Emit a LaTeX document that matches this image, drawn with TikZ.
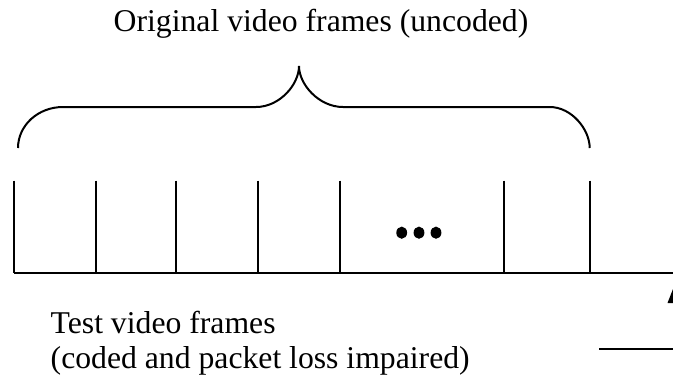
\documentclass[tikz,border=0pt]{standalone}
\usepackage{fontspec}
\setmainfont{Liberation Serif}
\begin{document}
\begin{tikzpicture}[x=1pt,y=-1pt,
  stroke/.style={line width=2pt,black},
  label/.style={inner sep=0pt,font=\fontsize{31.7}{35}\selectfont},
  dot/.style={fill=black,draw=none}]
\useasboundingbox (0,0) rectangle (673,381);
% labels
\node[label,anchor=base] (orig) at (321,31) {Original video frames (uncoded)};
\node[label,anchor=base west] (test1) at (50.5,333) {Test video frames};
\node[label,anchor=base west] (test2) at (50.5,368) {(coded and packet loss impaired)};
% brace
\draw[stroke] (18,148) .. controls (18,125.4) and (38,107) .. (63,107)
  -- (256,107) .. controls (279.7,107) and (299,84.5) .. (299,66)
  .. controls (299,84.5) and (319,107) .. (343,107)
  -- (549.7,107) .. controls (571.7,107) and (589.7,129.5) .. (589.7,148);
% frame line
\coordinate (b0) at (13.5,272.7);
\coordinate (bend) at (673,272.7);
\draw[stroke] (b0) -- (bend);
\foreach \x in {13.5,96,176,257.7,340,504,589.7}
  \draw[stroke] (\x,180.7) -- (\x,272.7);
% dots
\foreach \x in {401.7,419,436}
  \fill[dot] (\x,232.7) ellipse [x radius=5.4, y radius=6.1];
% bottom-right partial arrow and line
\fill[black] (667.5,303) -- (673,289) -- (673,303) -- cycle;
\coordinate (l0) at (599,349);
\coordinate (l1) at (673,349);
\draw[stroke] (l0) -- (l1);
\end{tikzpicture}
\end{document}
